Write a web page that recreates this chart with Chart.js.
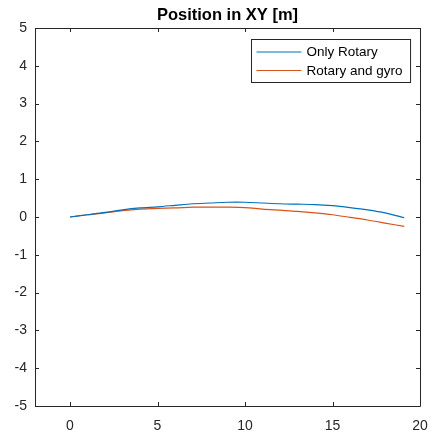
<!DOCTYPE html>
<html>
<head>
<meta charset="utf-8">
<script src="https://cdn.jsdelivr.net/npm/chart.js@4"></script>
<style>
  body { margin: 0; background: #fff; }
  canvas { display: block; }
</style>
</head>
<body>
<canvas id="pos" width="434" height="437"></canvas>
<script>
// data
const xRotary = [0, 1, 2, 3, 4, 5, 6, 7, 8, 9, 10, 11, 12, 13, 14, 15, 16, 17, 18, 19.1];
const yRotary = [0, 0.06, 0.12, 0.19, 0.24, 0.27, 0.31, 0.35, 0.37, 0.39, 0.39, 0.37, 0.35, 0.34, 0.33, 0.30, 0.25, 0.19, 0.11, -0.02];
const xGyro = [0, 1, 2, 3, 4, 5, 6, 7, 8, 9, 10, 11, 12, 13, 14, 15, 16, 17, 18, 19.1];
const yGyro = [0, 0.06, 0.11, 0.17, 0.21, 0.23, 0.24, 0.26, 0.26, 0.26, 0.25, 0.21, 0.18, 0.15, 0.11, 0.06, -0.01, -0.08, -0.16, -0.25];
const seriesNames = ["Only Rotary", "Rotary and gyro"];
const xTicks = [0, 5, 10, 15, 20];
const yTicks = [-5, -4, -3, -2, -1, 0, 1, 2, 3, 4, 5];

const AXC = '#262626';
const FONT = 'Liberation Sans, Arial, Helvetica, sans-serif';

function pts(xs, ys) {
    return xs.map((x, i) => ({x: x, y: ys[i]}));
}

// box round the axes, ticks pointing in (matlab style)
const boxPlugin = {
    id: 'box',
    afterDraw(chart) {
        const ctx = chart.ctx;
        const a = chart.chartArea;
        const sx = chart.scales.x, sy = chart.scales.y;
        const L = 4;
        ctx.save();
        ctx.strokeStyle = AXC;
        ctx.lineWidth = 1;
        ctx.beginPath();
        ctx.rect(Math.round(a.left) + 0.5, Math.round(a.top) + 0.5,
                 Math.round(a.right - a.left), Math.round(a.bottom - a.top));
        xTicks.forEach(v => {
            const px = Math.round(sx.getPixelForValue(v)) + 0.5;
            ctx.moveTo(px, a.bottom); ctx.lineTo(px, a.bottom - L);
            ctx.moveTo(px, a.top); ctx.lineTo(px, a.top + L);
        });
        yTicks.forEach(v => {
            const py = Math.round(sy.getPixelForValue(v)) + 0.5;
            ctx.moveTo(a.left, py); ctx.lineTo(a.left + L, py);
            ctx.moveTo(a.right, py); ctx.lineTo(a.right - L, py);
        });
        ctx.stroke();

        // legend box, top right
        ctx.font = '13.5px ' + FONT;
        let tw = 0;
        chart.data.datasets.forEach(d => { tw = Math.max(tw, ctx.measureText(d.label).width); });
        const w = 55 + tw + 8, h = 43;
        const bx = Math.round(a.right - 10 - w) + 0.5, by = Math.round(a.top + 11) + 0.5;
        ctx.fillStyle = '#fff';
        ctx.fillRect(bx, by, w, h);
        ctx.strokeStyle = AXC;
        ctx.strokeRect(bx, by, w, h);
        chart.data.datasets.forEach((d, i) => {
            const ly = by + 12.5 + i * 18.5;
            ctx.strokeStyle = d.borderColor;
            ctx.lineWidth = 1;
            ctx.beginPath();
            ctx.moveTo(bx + 5, ly); ctx.lineTo(bx + 50, ly);
            ctx.stroke();
            ctx.fillStyle = '#000';
            ctx.textBaseline = 'middle';
            ctx.textAlign = 'left';
            ctx.fillText(d.label, bx + 55, ly + 0.5);
        });
        ctx.restore();
    }
};

const bgPlugin = {
    id: 'bg',
    beforeDraw(chart) {
        const ctx = chart.ctx;
        ctx.save();
        ctx.fillStyle = '#fff';
        ctx.fillRect(0, 0, chart.width, chart.height);
        ctx.restore();
    }
};

new Chart(document.getElementById('pos'), {
    type: 'scatter',
    data: {
        datasets: [{
            label: seriesNames[0],
            data: pts(xRotary, yRotary),
            showLine: true,
            borderColor: '#0072BD',
            borderWidth: 1.2,
            pointRadius: 0,
            tension: 0.3
        }, {
            label: seriesNames[1],
            data: pts(xGyro, yGyro),
            showLine: true,
            borderColor: '#D95319',
            borderWidth: 1.2,
            pointRadius: 0,
            tension: 0.3
        }]
    },
    options: {
        responsive: false,
        animation: false,
        layout: {padding: {left: 0, right: 14, top: 0, bottom: 0}},
        plugins: {
            legend: {display: false},
            tooltip: {enabled: false},
            title: {
                display: true,
                fullSize: false,
                text: 'Position in XY [m]',
                color: '#000',
                font: {family: FONT, size: 16.5, weight: 'bold'},
                padding: {top: 5.5, bottom: 2.7}
            }
        },
        scales: {
            x: {
                type: 'linear',
                min: -2,
                max: 20,
                afterBuildTicks: s => { s.ticks = xTicks.map(v => ({value: v})); },
                afterFit: s => { s.height = 31; s.paddingLeft = 0; s.paddingRight = 0; },
                grid: {display: false, drawTicks: false},
                border: {display: false},
                ticks: {color: AXC, font: {family: FONT, size: 14}, padding: 12, maxRotation: 0}
            },
            y: {
                type: 'linear',
                min: -5,
                max: 5,
                afterBuildTicks: s => { s.ticks = yTicks.map(v => ({value: v})); },
                afterFit: s => { s.width = 35; s.paddingTop = 0; s.paddingBottom = 0; },
                grid: {display: false, drawTicks: false},
                border: {display: false},
                ticks: {color: AXC, font: {family: FONT, size: 14}, padding: 8}
            }
        }
    },
    plugins: [bgPlugin, boxPlugin]
});
</script>
</body>
</html>
